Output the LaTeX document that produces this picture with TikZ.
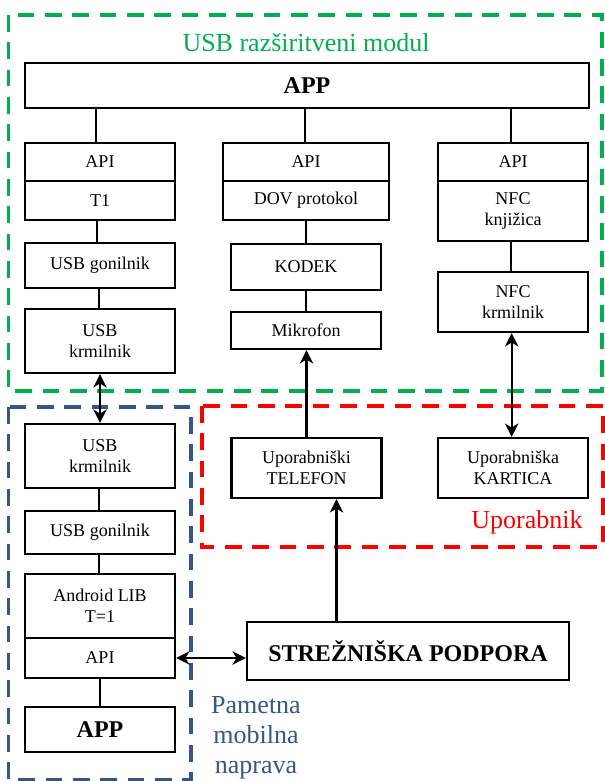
\documentclass[tikz,border=0pt]{standalone}
\usepackage{fontspec}
\setmainfont{Liberation Serif}
\usetikzlibrary{arrows.meta}
\definecolor{modgreen}{RGB}{0,176,80}
\definecolor{userred}{RGB}{255,0,0}
\definecolor{phoneblue}{RGB}{52,86,138}
\tikzset{
  box/.style 2 args={draw, line width=1.7pt, minimum width=#1*0.75pt,
    minimum height=#2*0.75pt, inner sep=0pt, align=center,
    font=\fontsize{13.5}{15.75}\selectfont},
  boldtxt/.style={font=\fontsize{18}{21}\selectfont\bfseries},
  tip/.style={Stealth[length=10pt,width=10pt,inset=3pt]},
  wire/.style={line width=1.7pt},
  arr/.style={line width=1.7pt, -{Stealth[length=10pt,width=10pt,inset=3pt]}},
  dbl/.style={line width=1.7pt, {Stealth[length=10pt,width=10pt,inset=3pt]}-{Stealth[length=10pt,width=10pt,inset=3pt]}},
  frame/.style={line width=2.6pt, dash pattern=on 12.5pt off 8pt},
  grouplabel/.style={font=\fontsize{19.5}{22.5}\selectfont, align=center, inner sep=0pt}
}
\begin{document}
\begin{tikzpicture}[x=0.75pt, y=-0.75pt]
\useasboundingbox (0,0) rectangle (604,781);

% group frames
\draw[frame, modgreen] (8.5,15) rectangle (602,391);
\draw[frame, userred] (202,406) rectangle (603,547);
\draw[frame, phoneblue] (8.5,407) rectangle (191,780);

% group labels
\node[grouplabel, text=modgreen] (modlabel) at (306,43) {USB razširitveni modul};
\node[grouplabel, text=userred] (userlabel) at (527,522) {Uporabnik};
\node[grouplabel, text=phoneblue] (phonelabel) at (256,738) {Pametna\\mobilna\\naprava};

% USB extension module
\node[box={564}{44.5}, boldtxt] (app) at (307,85.5) {APP};

\node[box={150}{38}] (apiA) at (100,162) {API};
\node[box={150}{39}] (tA) at (100,200.5) {T1};
\node[box={150}{45}] (drvA) at (100,265.5) {USB gonilnik};
\node[box={150}{64}] (ctlA) at (100,341) {USB\\krmilnik};

\node[box={166}{38}] (apiB) at (306,162) {API};
\node[box={166}{39}] (dov) at (306,200.5) {DOV protokol};
\node[box={150}{46}] (codec) at (306,267) {KODEK};
\node[box={150}{37}] (mic) at (306,330.5) {Mikrofon};

\node[box={150}{38}] (apiC) at (513,162) {API};
\node[box={150}{60}] (nfclib) at (513,211) {NFC\\knjižica};
\node[box={150}{60}] (nfcctl) at (513,302) {NFC\\krmilnik};

% user devices
\node[box={150}{60}] (tel) at (306.5,468) {Uporabniški\\TELEFON};
\node[box={150}{60}] (card) at (513,468) {Uporabniška\\KARTICA};

% smart mobile device
\node[box={150}{64}] (ctlP) at (100,456) {USB\\krmilnik};
\node[box={150}{43}] (drvP) at (100,532.5) {USB gonilnik};
\node[box={150}{64}] (lib) at (100,606) {Android LIB\\T=1};
\node[box={150}{40}] (apiP) at (100,658) {API};
\node[box={150}{45}, boldtxt] (appP) at (100,729.5) {APP};

% server
\node[box={322}{58}, boldtxt] (srv) at (408,651) {STREŽNIŠKA PODPORA};

% connectors inside the module
\draw[wire] ([xshift=-3pt]apiA.north) -- ([xshift=-3pt]apiA.north |- app.south);
\draw[wire] ([xshift=-2pt]tA.south) -- ([xshift=-2pt]drvA.north);
\draw[wire] ([xshift=-0.75pt]drvA.south) -- ([xshift=-0.75pt]ctlA.north);
\draw[wire] ([xshift=-0.75pt]apiB.north) -- ([xshift=-0.75pt]apiB.north |- app.south);
\draw[wire] (dov.south) -- (codec.north);
\draw[wire] (codec.south) -- (mic.north);
\draw[wire] ([xshift=-1.5pt]apiC.north) -- ([xshift=-1.5pt]apiC.north |- app.south);
\draw[wire] ([xshift=-1.5pt]nfclib.south) -- ([xshift=-1.5pt]nfcctl.north);

% links between groups
\draw[dbl] (ctlA.south) -- (ctlP.north);
\draw[dbl] ([xshift=-1pt]nfcctl.south) -- ([xshift=-1pt]card.north);
\draw[arr] (tel.north) -- (tel.north |- mic.south);
\draw[arr] ([xshift=22.5pt]tel.south |- srv.north) -- ([xshift=22.5pt]tel.south);
\draw[dbl] (apiP.east) -- (srv.west |- apiP.east);

% smart device stack
\draw[wire] ([xshift=-1pt]ctlP.south) -- ([xshift=-1pt]drvP.north);
\draw[wire] ([xshift=-1pt]drvP.south) -- ([xshift=-1pt]lib.north);
\draw[wire] (apiP.south) -- (appP.north);
\end{tikzpicture}
\end{document}
